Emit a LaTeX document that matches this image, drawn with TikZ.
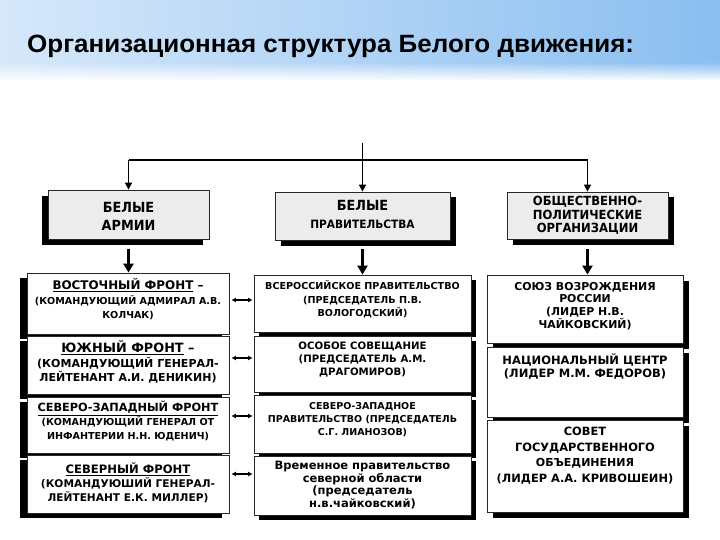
\documentclass[tikz,border=0pt]{standalone}
\usepackage{fontspec}
\setmainfont{DejaVu Sans}
\newfontfamily\titlef[FakeStretch=1.04]{Liberation Sans}
\newfontfamily\topf[FakeStretch=0.92]{DejaVu Sans}
\newfontfamily\colf{DejaVu Sans}
\usetikzlibrary{arrows.meta,shadows,fadings}
\definecolor{bandL}{RGB}{214,232,250}
\definecolor{bandR}{RGB}{138,190,240}
\definecolor{topfill}{RGB}{236,236,236}
\definecolor{edge}{RGB}{40,40,40}
\newcommand\fs[2]{\fontsize{#1}{#2}\selectfont}
\tikzset{
  box/.style={draw=edge, line width=0.8pt, inner sep=0pt, fill=white},
  topbox/.style={box, fill=topfill},
  lsh/.style={general shadow={fill=black, shadow xshift=-7pt, shadow yshift=-5pt}},
  rsh/.style={general shadow={fill=black, shadow xshift=4.5pt, shadow yshift=-4.5pt}},
  tlsh/.style={general shadow={fill=black, shadow xshift=-6pt, shadow yshift=-6pt}},
  trsh/.style={general shadow={fill=black, shadow xshift=5.5pt, shadow yshift=-5.5pt}},
  txt/.style={align=center, inner sep=0pt, text=black},
  ctext/.style={txt, font=\colf\bfseries\fs{9.6}{14.5}},
  mtext/.style={txt, font=\colf\bfseries\fs{9.6}{13.5}},
  rtext/.style={txt, font=\colf\bfseries\fs{10.9}{12.7}},
  ttext/.style={txt, font=\topf\bfseries\fs{14}{18}},
  feed/.style={line width=1.6pt, -{Triangle[length=7pt,width=7pt]}},
  drop/.style={line width=2.6pt, -{Triangle[length=9pt,width=10pt]}},
  link/.style={line width=1.4pt, {Latex[length=4.5pt,width=5pt]}-{Latex[length=4.5pt,width=5pt]}}
}
\begin{document}
\begin{tikzpicture}[x=1pt,y=-1pt]
\useasboundingbox (0,0) rectangle (720,540);
\fill[white] (0,0) rectangle (720,540);
% title band
\shade[left color=bandL, right color=bandR] (0,0) rectangle (720,80);
\fill[white, path fading=north] (0,62) rectangle (720,81);
\node[txt, anchor=base west, font=\titlef\bfseries\fs{25}{28}] (title) at (27,53) {Организационная структура Белого движения:};

% top boxes
\node[topbox, tlsh, minimum width=161pt, minimum height=49pt] (t1) at (128.5,214.5) {};
\node[topbox, trsh, minimum width=175pt, minimum height=48pt] (t2) at (362.5,216) {};
\node[topbox, trsh, minimum width=161pt, minimum height=47pt] (t3) at (587.5,215.5) {};
\node[ttext] (t1x) at (128.5,216) {БЕЛЫЕ\\АРМИИ};
\node[ttext] (t2x) at (362.5,214) {БЕЛЫЕ\\{\fs{11.5}{14}ПРАВИТЕЛЬСТВА}};
\node[txt, font=\topf\bfseries\fs{12.6}{13.5}] (t3x) at (587.5,215.5) {ОБЩЕСТВЕННО-\\ПОЛИТИЧЕСКИЕ\\ОРГАНИЗАЦИИ};

% feed connectors
\coordinate (src) at (362.5,143);
\coordinate (hub) at (362.5,160);
\draw[line width=1.6pt] (t1.north |- hub) -- (t3.north |- hub);
\draw[feed] (src) -- (t2.north);
\draw[feed] (t1.north |- hub) -- (t1.north);
\draw[feed] (t3.north |- hub) -- (t3.north);

% left column
\node[box, lsh, minimum width=202pt, minimum height=61pt] (l1) at (128,303.5) {};
\node[box, lsh, minimum width=202pt, minimum height=58pt] (l2) at (128,365) {};
\node[box, lsh, minimum width=202pt, minimum height=56pt] (l3) at (128,425) {};
\node[box, lsh, minimum width=202pt, minimum height=58pt] (l4) at (128,484) {};
\node[ctext] (l1x) at (128,299.5) {{\fs{11.9}{14.5}\underline{ВОСТОЧНЫЙ ФРОНТ} –}\\(КОМАНДУЮЩИЙ АДМИРАЛ А.В.\\КОЛЧАК)};
\node[ctext, font=\colf\bfseries\fs{11}{14.5}] (l2x) at (128,362) {{\fs{12.8}{14.5}\underline{ЮЖНЫЙ ФРОНТ} –}\\(КОМАНДУЮЩИЙ ГЕНЕРАЛ-\\ЛЕЙТЕНАНТ А.И. ДЕНИКИН)};
\node[ctext, font=\colf\bfseries\fs{9.6}{14}] (l3x) at (128,421.5) {{\fs{11.3}{14}\underline{СЕВЕРО-ЗАПАДНЫЙ ФРОНТ}}\\(КОМАНДУЮЩИЙ ГЕНЕРАЛ ОТ\\ИНФАНТЕРИИ Н.Н. ЮДЕНИЧ)};
\node[ctext, font=\colf\bfseries\fs{10.6}{14}] (l4x) at (128,483) {{\fs{11.6}{14}\underline{СЕВЕРНЫЙ ФРОНТ}}\\(КОМАНДУЮШИЙ ГЕНЕРАЛ-\\ЛЕЙТЕНАНТ Е.К. МИЛЛЕР)};

% middle column
\node[box, rsh, minimum width=217pt, minimum height=57pt] (m1) at (362.5,303.5) {};
\node[box, rsh, minimum width=217pt, minimum height=56pt] (m2) at (362.5,364) {};
\node[box, rsh, minimum width=217pt, minimum height=58pt] (m3) at (362.5,424) {};
\node[box, rsh, minimum width=217pt, minimum height=59pt] (m4) at (362.5,485.5) {};
\node[mtext] (m1x) at (362.5,299.5) {ВСЕРОССИЙСКОЕ ПРАВИТЕЛЬСТВО\\(ПРЕДСЕДАТЕЛЬ П.В.\\ВОЛОГОДСКИЙ)};
\node[mtext, font=\colf\bfseries\fs{10.2}{13}] (m2x) at (362.5,360) {ОСОБОЕ СОВЕЩАНИЕ\\(ПРЕДСЕДАТЕЛЬ А.М.\\ДРАГОМИРОВ)};
\node[mtext, font=\colf\bfseries\fs{9.5}{13}] (m3x) at (362.5,420) {СЕВЕРО-ЗАПАДНОЕ\\ПРАВИТЕЛЬСТВО (ПРЕДСЕДАТЕЛЬ\\С.Г. ЛИАНОЗОВ)};
\node[txt, font=\colf\bfseries\fs{11.5}{12.5}] (m4x) at (362.5,485) {Временное правительство\\северной области\\(председатель\\н.в.чайковский)};

% right column
\node[box, trsh, minimum width=196pt, minimum height=68pt] (r1) at (585,309) {};
\node[box, trsh, minimum width=196pt, minimum height=70pt] (r2) at (585,382) {};
\node[box, trsh, minimum width=196pt, minimum height=92pt] (r3) at (585,466) {};
\node[rtext] (r1x) at (585,306) {СОЮЗ ВОЗРОЖДЕНИЯ\\РОССИИ\\(ЛИДЕР Н.В.\\ЧАЙКОВСКИЙ)};
\node[rtext, font=\colf\bfseries\fs{11.5}{13}] (r2x) at (585,366.5) {НАЦИОНАЛЬНЫЙ ЦЕНТР\\(ЛИДЕР М.М. ФЕДОРОВ)};
\node[rtext, font=\colf\bfseries\fs{11.4}{15.5}] (r3x) at (585,455.5) {СОВЕТ\\ГОСУДАРСТВЕННОГО\\{\fs{11}{15.5}ОБЪЕДИНЕНИЯ}\\(ЛИДЕР А.А. КРИВОШЕИН)};

% drops from headings to columns
\draw[drop] ([yshift=-10pt]t1.south) -- (t1.south |- l1.north);
\draw[drop] ([yshift=-9pt]t2.south) -- (t2.south |- m1.north);
\draw[drop] ([yshift=-10pt]t3.south) -- (t3.south |- r1.north);

% links between fronts and governments
\draw[link] ([xshift=2pt,yshift=3.5pt]l1.east) -- ([xshift=-1pt,yshift=3.5pt]m1.west);
\draw[link] ([xshift=2pt,yshift=7pt]l2.east) -- ([xshift=-1pt,yshift=6pt]m2.west);
\draw[link] ([xshift=2pt,yshift=9pt]l3.east) -- ([xshift=-1pt,yshift=8pt]m3.west);
\draw[link] ([xshift=2pt,yshift=10pt]l4.east) -- ([xshift=-1pt,yshift=11.5pt]m4.west);
\end{tikzpicture}
\end{document}
